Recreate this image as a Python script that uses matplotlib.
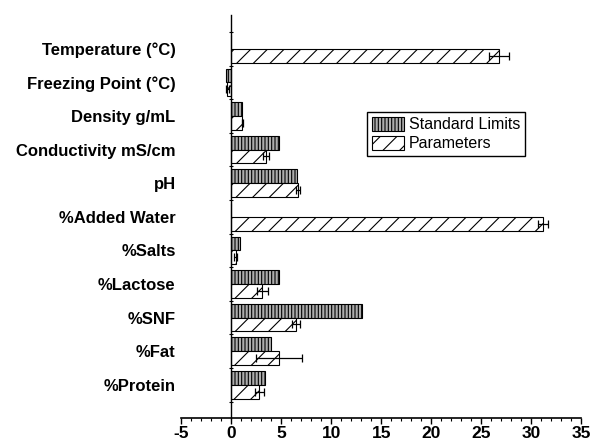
import numpy as np
import matplotlib
matplotlib.use("Agg")
import matplotlib.pyplot as plt

plt.rcParams['font.family'] = ['Liberation Sans', 'DejaVu Sans']
plt.rcParams['hatch.linewidth'] = 0.8

# bottom to top
categories = ["%Protein", "%Fat", "%SNF", "%Lactose", "%Salts", "%Added Water",
              "pH", "Conductivity mS/cm", "Density g/mL", "Freezing Point (°C)",
              "Temperature (°C)"]
standard = [3.4, 4.0, 13.1, 4.8, 0.85, 0, 6.6, 4.8, 1.05, -0.55, 0]
params = [2.8, 4.8, 6.5, 3.1, 0.45, 31.2, 6.65, 3.5, 1.1, -0.4, 26.8]
params_err = [0.45, 2.3, 0.4, 0.55, 0.15, 0.5, 0.2, 0.3, 0.05, 0.15, 1.0]

y = np.arange(len(categories))
h = 0.41

fig = plt.figure(figsize=(5.9, 4.46), dpi=100)
ax = fig.add_axes([0.307, 0.062, 0.678, 0.904])

# move spine first: set_position resets the tick objects
ax.spines['left'].set_position(('data', 0))
ax.spines['right'].set_visible(False)
ax.spines['top'].set_visible(False)
ax.spines['bottom'].set_linewidth(1.2)
ax.spines['left'].set_linewidth(1)

ax.barh(y + h/2, standard, height=h, color='#adadad', edgecolor='black',
        hatch='|||||', linewidth=0.8, label='Standard Limits')
ax.barh(y - h/2, params, height=h, color='white', edgecolor='black',
        hatch='//', linewidth=0.8, label='Parameters')
ax.errorbar(params, y - h/2, xerr=params_err, fmt='none', ecolor='black',
            elinewidth=0.9, capsize=3, capthick=0.9)

ax.set_xlim(-5, 35)
ax.set_ylim(-1.0, 11.0)
ax.set_xticks(np.arange(-5, 36, 5))
ax.set_xticks(np.arange(-5, 36, 1), minor=True)
ax.set_xticklabels([str(v) for v in range(-5, 36, 5)])

ax.set_yticks(y)
ax.set_yticklabels(categories)
ax.set_yticks(np.arange(-0.5, 11, 1), minor=True)
ax.tick_params(axis='y', which='major', length=0, pad=40)
ax.tick_params(axis='y', which='minor', length=3, direction='inout', width=0.8)
ax.tick_params(axis='x', which='major', length=4, width=1, direction='out', pad=1.5)
ax.tick_params(axis='x', which='minor', length=2.5, width=0.8, direction='out')

for lbl in ax.get_yticklabels():
    lbl.set_fontweight('bold')
    lbl.set_fontsize(12)
for lbl in ax.get_xticklabels():
    lbl.set_fontweight('bold')
    lbl.set_fontsize(12.5)

ax.legend(loc='upper left', bbox_to_anchor=(0.465, 0.76), fontsize=11.5,
          frameon=True, fancybox=False, edgecolor='black', framealpha=1,
          handlelength=2.0, handleheight=1.0, handletextpad=0.3,
          borderpad=0.3, labelspacing=0.2, borderaxespad=0)

fig.savefig("out.png", dpi=100)
